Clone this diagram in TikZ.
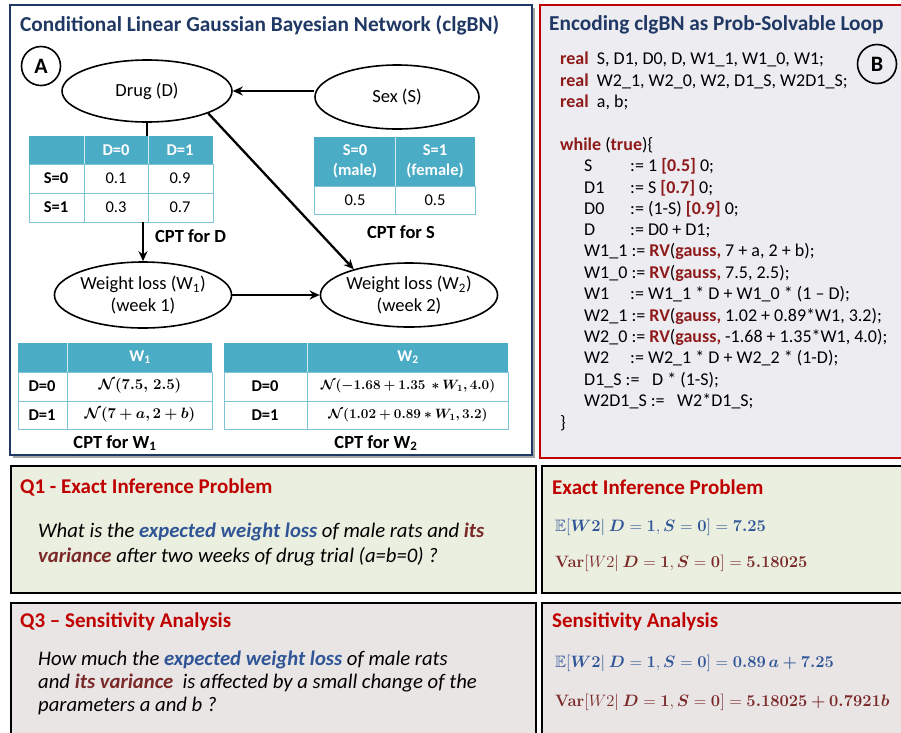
\RequirePackage{fix-cm}
\documentclass[tikz,border=0pt]{standalone}
\usepackage{amsmath,amssymb,bm}
\usepackage[no-math]{fontspec}
\setmainfont{Carlito}
\usetikzlibrary{arrows.meta,shapes.geometric}
\definecolor{navy}{HTML}{1F3864}
\definecolor{teal}{HTML}{4BACC6}
\definecolor{tealline}{HTML}{7FC4D6}
\definecolor{codered}{HTML}{8E1A1A}
\definecolor{titlered}{HTML}{C00000}
\definecolor{qblue}{HTML}{2F5597}
\definecolor{qbrown}{HTML}{7A2828}
\definecolor{qonefill}{HTML}{EBEFDF}
\definecolor{qthreefill}{HTML}{E9E5E5}
\definecolor{pbfill}{HTML}{EDECF1}
\newcommand{\kw}[1]{\textbf{\color{codered}#1}}
\newcommand{\fs}[1]{\fontsize{#1}{\fpeval{1.2*#1}}\selectfont}
\tikzset{
  ell/.style={draw, ellipse, line width=1.6pt, inner sep=0pt, align=center, font=\fs{18.5}},
  arr/.style={line width=2.3pt, -{Stealth[length=10pt,width=9pt]}},
  plainline/.style={line width=2.3pt},
  circ/.style={draw, circle, line width=1.6pt, minimum size=39pt, inner sep=0pt, font=\bfseries\fs{22}},
  ptitle/.style={anchor=west, inner sep=0pt, text=navy, font=\bfseries\fs{21.3}},
  qtitle/.style={anchor=west, inner sep=0pt, text=titlered, font=\bfseries\fs{21}},
  qtext/.style={anchor=base west, inner sep=0pt, font=\itshape\fs{20.7}},
  code/.style={anchor=base west, inner sep=0pt, font=\fs{18}},
  cell/.style={inner sep=0pt, align=center, font=\fs{16.5}},
  hcell/.style={cell, text=white, font=\bfseries\fs{16.5}},
  rlab/.style={cell, font=\bfseries\fs{16.5}},
  cpt/.style={inner sep=0pt, font=\bfseries\fs{18.5}},
  mth/.style={anchor=west, inner sep=0pt, font=\fs{16.5}},
  tline/.style={draw=tealline, line width=1pt},
  hsep/.style={draw=white!75!teal, line width=0.8pt},
  box/.style={draw=black, line width=2pt}
}
\begin{document}
\begin{tikzpicture}[x=1pt,y=-1pt]
\useasboundingbox (0,0) rectangle (901,732);
\fill[white] (0,0) rectangle (901,732);
% ---------- Panel A ----------
\fill[black!35] (13,8) rectangle (535,458);
\filldraw[fill=white, draw=navy, line width=2.5pt] (10,5) rectangle (532,455);
\node[ptitle] (tA) at (20,25) {Conditional Linear Gaussian Bayesian Network (clgBN)};
\node[circ] (cA) at (41,66) {A};
\node[ell, minimum width=170pt, minimum height=62pt] (drug) at (147,91) {Drug (D)};
\node[ell, minimum width=164pt, minimum height=64pt] (sex) at (397,97) {Sex (S)};
\node[ell, minimum width=164pt, minimum height=66pt] (w1) at (143,295) {Weight loss (W\textsubscript{1})\\(week 1)};
\node[ell, minimum width=168pt, minimum height=64pt] (w2) at (409,295) {Weight loss (W\textsubscript{2})\\(week 2)};
% table D
\fill[teal] (29,136) rectangle (213,164);
\draw[hsep] (84,136) -- (84,164) (148,136) -- (148,164);
\draw[tline] (29,164) rectangle (213,222) (29,193) -- (213,193) (84,164) -- (84,222) (148,164) -- (148,222);
\coordinate (dtop) at (147,136);
\coordinate (dbot) at (143,222);
\node[hcell] (dh0) at (116,150) {D=0};
\node[hcell] (dh1) at (180,150) {D=1};
\node[rlab] (ds0) at (56,178) {S=0};
\node[rlab] (ds1) at (56,207) {S=1};
\node[cell] (d00) at (116,178) {0.1};
\node[cell] (d01) at (180,178) {0.9};
\node[cell] (d10) at (116,207) {0.3};
\node[cell] (d11) at (180,207) {0.7};
\node[cpt, anchor=west] (cptD) at (155,236) {CPT for D};
% table S
\fill[teal] (314,137) rectangle (475,186);
\draw[hsep] (395,137) -- (395,186);
\draw[tline] (314,186) rectangle (475,214) (395,186) -- (395,214);
\node[hcell] (sh0) at (355,161) {S=0\\(male)};
\node[hcell] (sh1) at (435,161) {S=1\\(female)};
\node[cell] (s0) at (355,200) {0.5};
\node[cell] (s1) at (435,200) {0.5};
\node[cpt] (cptS) at (401,232) {CPT for S};
% table W1
\fill[teal] (18,343) rectangle (212,372);
\draw[hsep] (67,343) -- (67,372);
\draw[tline] (18,372) rectangle (212,429) (18,401) -- (212,401) (67,372) -- (67,429);
\node[hcell] (w1h) at (140,357) {W\textsubscript{1}};
\node[rlab] (w1r0) at (42,386) {D=0};
\node[rlab] (w1r1) at (42,415) {D=1};
\node[cell, font=\fs{15}] (w1v0) at (140,386) {$\bm{\mathcal{N}(7.5,\, 2.5)}$};
\node[cell, font=\fs{15}] (w1v1) at (140,415) {$\bm{\mathcal{N}(7 + a, 2 + b)}$};
\node[cpt] (cptW1) at (115,443) {CPT for W\textsubscript{1}};
% table W2
\fill[teal] (224,343) rectangle (508,372);
\draw[hsep] (307,343) -- (307,372);
\draw[tline] (224,372) rectangle (508,429) (224,401) -- (508,401) (307,372) -- (307,429);
\node[hcell] (w2h) at (408,357) {W\textsubscript{2}};
\node[rlab] (w2r0) at (265,386) {D=0};
\node[rlab] (w2r1) at (265,415) {D=1};
\node[cell, font=\fs{13.5}] (w2v0) at (408,386) {$\bm{\mathcal{N}(-1.68 + 1.35\ * W_1, 4.0)}$};
\node[cell, font=\fs{13.5}] (w2v1) at (408,415) {$\bm{\mathcal{N}(1.02 + 0.89 * W_1, 3.2)}$};
\node[cpt] (cptW2) at (376,443) {CPT for W\textsubscript{2}};
% connectors
\draw[arr] (sex.west |- drug.east) -- (drug.east);
\draw[plainline] (drug.south) -- (dtop);
\draw[arr] (dbot) -- (w1.north);
\draw[arr] (drug.-20) -- (w2.155);
\draw[arr] (w1.east) -- (w2.west);
% ---------- Panel B ----------
\filldraw[fill=pbfill, draw=titlered, line width=2.5pt] (540,5) rectangle (903,458);
\node[ptitle] (tB) at (549,25) {Encoding clgBN as Prob-Solvable Loop};
\node[circ] (cB) at (877,64) {B};
\node[code] (c1) at (560,64) {\kw{real} \ S, D1, D0, D, W1\_1, W1\_0, W1;};
\node[code] (c2) at (560,86) {\kw{real} \ W2\_1, W2\_0, W2, D1\_S, W2D1\_S;};
\node[code] (c3) at (560,107) {\kw{real} \ a, b;};
\node[code] (c4) at (560,150) {\kw{while} (\kw{true})\{};
\node[code] (c5a) at (584,171) {S};
\node[code] (c5b) at (630,171) {:= 1 \kw{[0.5]} 0;};
\node[code] (c6a) at (584,193) {D1};
\node[code] (c6b) at (630,193) {:= S \kw{[0.7]} 0;};
\node[code] (c7a) at (584,214) {D0};
\node[code] (c7b) at (630,214) {:= (1-S) \kw{[0.9]} 0;};
\node[code] (c8a) at (584,235) {D};
\node[code] (c8b) at (630,235) {:= D0 + D1;};
\node[code] (c9) at (584,256) {W1\_1 := \kw{RV}(\kw{gauss,} 7 + a, 2 + b);};
\node[code] (c10) at (584,278) {W1\_0 := \kw{RV}(\kw{gauss,} 7.5, 2.5);};
\node[code] (c11a) at (584,299) {W1};
\node[code] (c11b) at (630,299) {:= W1\_1 * D + W1\_0 * (1 – D);};
\node[code] (c12) at (584,321) {W2\_1 := \kw{RV}(\kw{gauss,} 1.02 + 0.89*W1, 3.2);};
\node[code] (c13) at (584,342) {W2\_0 := \kw{RV}(\kw{gauss,} -1.68 + 1.35*W1, 4.0);};
\node[code] (c14a) at (584,363) {W2};
\node[code] (c14b) at (630,363) {:= W2\_1 * D + W2\_2 * (1-D);};
\node[code] (c15a) at (584,385) {D1\_S :=};
\node[code] (c15b) at (652,385) {D * (1-S);};
\node[code] (c16a) at (584,406) {W2D1\_S :=};
\node[code] (c16b) at (677,406) {W2*D1\_S;};
\node[code] (c17) at (560,428) {\}};
% ---------- Q1 ----------
\filldraw[box, fill=qonefill] (11,466) rectangle (536,593);
\node[qtitle] (q1t) at (20,487) {Q1 - Exact Inference Problem};
\node[qtext] (q1a) at (38,537) {What is the {\bfseries\color{qblue}expected weight loss} of male rats and {\bfseries\color{qbrown}its}};
\node[qtext] (q1b) at (38,562) {{\bfseries\color{qbrown}variance} after two weeks of drug trial (a=b=0) ?};
% ---------- Exact ----------
\filldraw[box, fill=qonefill] (542,466) rectangle (903,593);
\node[qtitle] (ext) at (552,487) {Exact Inference Problem};
\node[mth, text=qblue] (exE) at (555,527) {$\mathbb{E}[\bm{W2}|\ \bm{D} = \bm{1}, \bm{S} = \bm{0}] = \bm{7.25}$};
\node[mth, text=qbrown] (exV) at (555,563) {$\mathbf{Var}[W2|\ \bm{D} = \bm{1}, \bm{S} = \bm{0}] = \bm{5.18025}$};
% ---------- Q3 ----------
\filldraw[box, fill=qthreefill] (11,603) rectangle (536,735);
\node[qtitle] (q3t) at (20,622) {Q3 – Sensitivity Analysis};
\node[qtext] (q3a) at (38,665) {How much the {\bfseries\color{qblue}expected weight loss} of male rats};
\node[qtext] (q3b) at (38,688) {and {\bfseries\color{qbrown}its variance} \ is affected by a small change of the};
\node[qtext] (q3c) at (38,711) {parameters a and b ?};
% ---------- Sensitivity ----------
\filldraw[box, fill=qthreefill] (542,603) rectangle (903,735);
\node[qtitle] (sat) at (552,622) {Sensitivity Analysis};
\node[mth, text=qblue] (saE) at (555,663) {$\mathbb{E}[\bm{W2}|\ \bm{D} = \bm{1}, \bm{S} = \bm{0}] = \bm{0.89\,a + 7.25}$};
\node[mth, text=qbrown] (saV) at (555,702) {$\mathbf{Var}[W2|\ \bm{D} = \bm{1}, \bm{S} = \bm{0}] = \bm{5.18025 + 0.7921b}$};
\end{tikzpicture}
\end{document}
